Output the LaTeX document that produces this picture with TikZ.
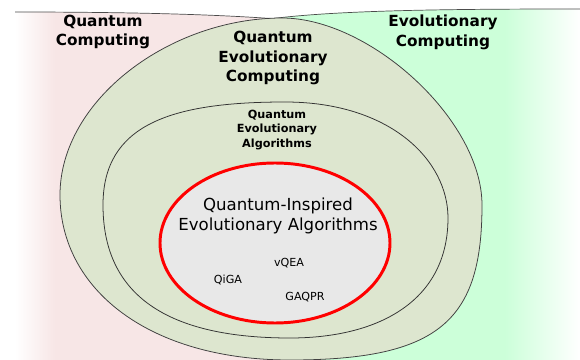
\documentclass[tikz,border=0pt]{standalone}
\usepackage{fontspec}
\setmainfont{DejaVu Sans}
\usepackage{tikz}
\usetikzlibrary{positioning, calc}
\definecolor{qcpink}{RGB}{247,230,230}
\definecolor{ecgreen}{RGB}{204,255,217}
\definecolor{qecolive}{RGB}{221,230,207}
\definecolor{qieagray}{RGB}{232,232,232}
\definecolor{qiered}{RGB}{255,0,0}
\tikzset{
  %% ---- regions ----
  rim/.style     = {draw=gray!60!black, line width=0.5pt},
  setline/.style = {draw=black!80, line width=0.55pt, fill=qecolive},
  redset/.style  = {draw=qiered, line width=2.1pt, fill=qieagray},
  %% ---- labels ----
  bigtitle/.style   = {font=\fontsize{10.9}{14}\selectfont\bfseries,
                       align=center, inner sep=0pt},
  smalltitle/.style = {font=\fontsize{8}{10.3}\selectfont\bfseries,
                       align=center, inner sep=0pt},
  inspired/.style   = {font=\fontsize{11.8}{14.2}\selectfont,
                       align=center, inner sep=0pt},
  algo/.style       = {font=\fontsize{7.9}{9.5}\selectfont, inner sep=0pt},
}

\begin{document}
\begin{tikzpicture}[x=0.025cm, y=-0.025cm]
\useasboundingbox (0,0) rectangle (580,360);

%% ── Evolutionary computing field (right) ──────────────────────────────────
\begin{scope}
  \clip (270,19) .. controls (330,10) and (450,9) .. (580,9)
        -- (580,360) -- (270,360) -- cycle;
  \fill[ecgreen] (270,0) rectangle (505,360);
  \shade[left color=ecgreen, right color=white] (505,0) rectangle (580,360);
\end{scope}

%% ── Quantum computing field (left) ────────────────────────────────────────
\begin{scope}
  \clip (15,12) .. controls (120,12) and (220,14) .. (290,20)
        -- (290,360) -- (15,360) -- cycle;
  \shade[left color=white, right color=qcpink] (15,0) rectangle (55,360);
  \fill[qcpink] (55,0) rectangle (290,360);
\end{scope}

%% ── top rims of both fields ───────────────────────────────────────────────
\draw[rim] (15,12) .. controls (120,12) and (220,14) .. (290,20);
\draw[rim] (262,20) .. controls (330,10) and (450,9) .. (580,9);

%% ── Quantum Evolutionary Computing ────────────────────────────────────────
\path[setline, draw=gray!50!black]
  (282,18) .. controls (370,18) and (482,120) .. (482,205)
           .. controls (482,320) and (440,360) .. (290,360)
           .. controls (150,360) and (60,290) .. (60,195)
           .. controls (60,100) and (170,18) .. cycle;

%% ── Quantum Evolutionary Algorithms ───────────────────────────────────────
\path[setline]
  (285,102) .. controls (390,102) and (448,160) .. (448,218)
            .. controls (448,300) and (380,338) .. (290,338)
            .. controls (160,338) and (103,290) .. (103,205)
            .. controls (103,125) and (170,102) .. cycle;

%% ── Quantum-Inspired Evolutionary Algorithms ──────────────────────────────
\path[redset] (275,243) ellipse [x radius=115, y radius=80];

%% ── Labels ────────────────────────────────────────────────────────────────
\node[bigtitle]   (qc)   at (103,32)  {Quantum\\Computing};
\node[bigtitle]   (ec)   at (443,32)  {Evolutionary\\Computing};
\node[bigtitle]   (qec)  at (273,58)  {Quantum\\Evolutionary\\Computing};
\node[smalltitle] (qea)  at (277,130) {Quantum\\Evolutionary\\Algorithms};
\node[inspired]   (qiea) at (278,216) {Quantum-Inspired\\Evolutionary Algorithms};

\node[algo] (vqea)  at (289,263) {vQEA};
\node[algo] (qiga)  at (228,280) {QiGA};
\node[algo] (gaqpr) at (305,297) {GAQPR};

\end{tikzpicture}
\end{document}
